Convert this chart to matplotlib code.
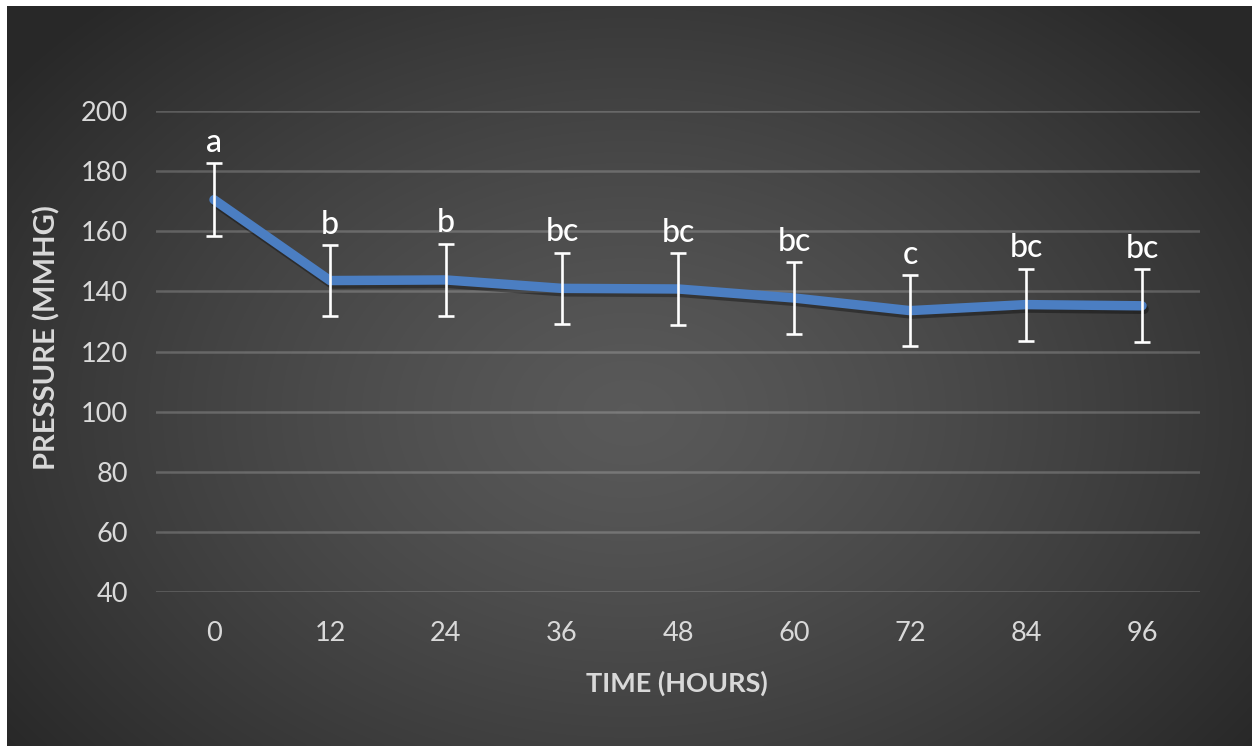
import numpy as np
import matplotlib
matplotlib.use("Agg")
import matplotlib.pyplot as plt
import matplotlib.patheffects as pe

# ---- data ----
hours = ["0", "12", "24", "36", "48", "60", "72", "84", "96"]
pressure = [170.5, 143.6, 143.8, 141.0, 140.8, 137.8, 133.6, 135.6, 135.2]
errors = [12.2, 11.8, 12.1, 11.9, 11.9, 12.0, 11.8, 12.0, 12.1]
letters = ["a", "b", "b", "bc", "bc", "bc", "c", "bc", "bc"]
yticks = [40, 60, 80, 100, 120, 140, 160, 180, 200]

W, H = 1252, 746
fig = plt.figure(figsize=(W / 100, H / 100), dpi=100)
fig.patch.set_facecolor("white")

# ---- radial gradient background ----
bg = fig.add_axes([7 / W, 0, 1 - 7 / W, 1 - 6 / H], zorder=-10)
ny, nx = 300, 500
yy, xx = np.mgrid[0:1:ny * 1j, 0:1:nx * 1j]
r = np.sqrt(((xx - 0.5) / 0.62) ** 2 + ((yy - 0.45) / 0.75) ** 2)
r = np.clip(r, 0, 1)
c_in, c_out = 0.35, 0.16
val = c_in + (c_out - c_in) * r ** 1.3
bg.imshow(np.dstack([val, val, val]), extent=[0, 1, 0, 1], aspect="auto",
          origin="lower", interpolation="bicubic")
bg.set_axis_off()

# ---- main axes ----
ax = fig.add_axes([156 / W, 1 - 592 / H, (1200 - 156) / W, (592 - 111) / H])
ax.set_facecolor("none")
x = np.arange(len(hours))

ax.set_ylim(40, 200)
ax.set_xlim(-0.5, len(hours) - 0.5)
ax.set_yticks(yticks)
ax.set_xticks(x)
ax.set_xticklabels(hours)
for s in ax.spines.values():
    s.set_visible(False)
ax.tick_params(length=0, colors="#d9d9d9", labelsize=19.5)
ax.tick_params(axis="y", pad=20)
ax.tick_params(axis="x", pad=21)
for lab in ax.get_xticklabels() + ax.get_yticklabels():
    lab.set_family("Lato")
ax.grid(axis="y", color="white", alpha=0.2, lw=1.8)
ax.set_axisbelow(True)

ax.plot(x, pressure, color="#4b7ec2", lw=6.8, solid_capstyle="round",
        solid_joinstyle="round", zorder=3,
        path_effects=[pe.SimpleLineShadow(offset=(1.5, -2.5), shadow_color="black", alpha=0.35),
                      pe.Normal()])
ax.errorbar(x, pressure, yerr=errors, fmt="none", ecolor="white", elinewidth=1.9,
            capsize=6, capthick=1.9, zorder=4)

for xi, p, e, t in zip(x, pressure, errors, letters):
    ax.annotate(t, (xi, p + e), xytext=(0, 8), textcoords="offset points",
                ha="center", va="baseline", color="white", fontsize=23,
                family="Lato", fontweight="medium")

fig.text(677 / W, 1 - 683 / H, "TIME (HOURS)", ha="center", va="center",
         color="#d9d9d9", fontsize=19.5, fontweight="bold", family="Lato")
fig.text(47 / W, 1 - 338 / H, "PRESSURE (MMHG)", ha="center", va="center",
         rotation=90, color="#d9d9d9", fontsize=21, fontweight="bold", family="Lato")

fig.savefig("out.png", dpi=100, facecolor=fig.get_facecolor())
